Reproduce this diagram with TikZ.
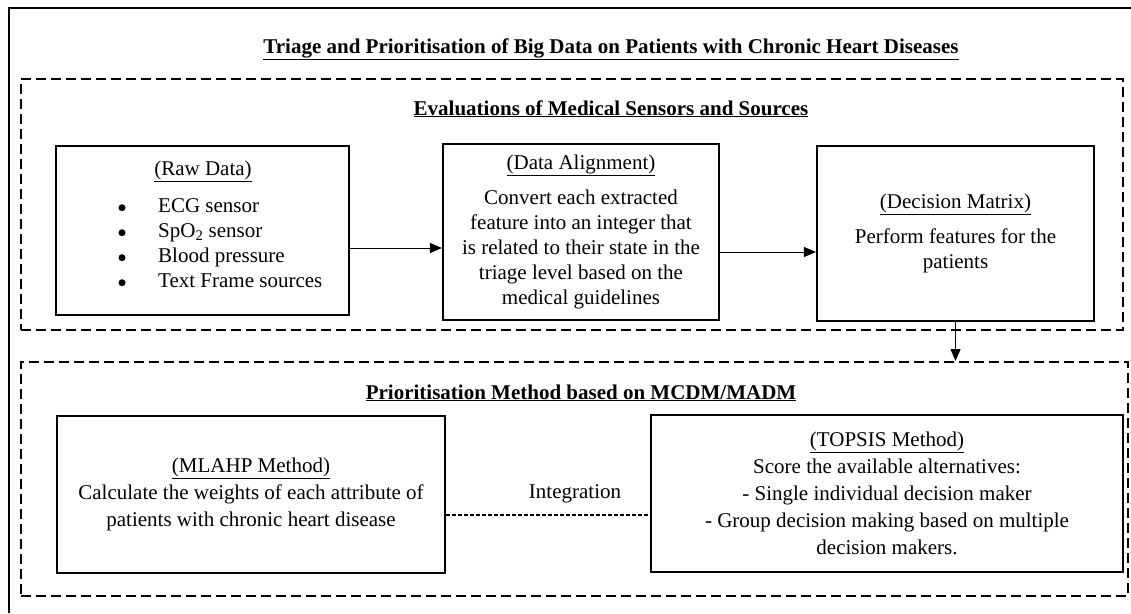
\documentclass[tikz,border=0pt]{standalone}
\usepackage{fontspec}
\setmainfont{Liberation Serif}
\usetikzlibrary{arrows.meta}
\begin{document}
\begin{tikzpicture}[x=1pt,y=-1pt,
  txt/.style={font=\fontsize{21}{25}\selectfont, inner sep=0pt},
  box/.style={draw, line width=2.2pt, inner sep=0pt, align=center, font=\fontsize{21}{25}\selectfont},
  lowbox/.style={box, font=\fontsize{21}{27}\selectfont},
  frame/.style={draw, line width=2pt, dash pattern=on 10pt off 5pt, inner sep=0pt},
  flow/.style={line width=1pt, -{Triangle[length=12pt,width=10pt]}},
  link/.style={line width=1.5pt, dash pattern=on 4pt off 2pt},
  dot/.style={fill, circle, inner sep=0pt, minimum size=7pt},
]
\useasboundingbox (0,0) rectangle (1131,613);

% outer frame (open to the right and bottom)
\draw[line width=2.8pt] (9,613) -- (9,8) -- (1131,8);

% dashed group frames
\node[frame, minimum width=1102pt, minimum height=251pt] (eval) at (572,204.5) {};
\node[frame, minimum width=1107pt, minimum height=234pt] (prio) at (574.5,479) {};

% headings
\node[txt, anchor=base] (title) at (611,53)
  {\textbf{\underline{Triage and Prioritisation of Big Data on Patients with Chronic Heart Diseases}}};
\node[txt, anchor=base] (evalhead) at (611,115)
  {\textbf{\underline{Evaluations of Medical Sensors and Sources}}};
\node[txt, anchor=base] (priohead) at (581,399)
  {\textbf{\underline{Prioritisation Method based on MCDM/MADM}}};

% raw data box
\node[box, minimum width=293pt, minimum height=169pt] (raw) at (202.5,230.5) {};
\node[txt, anchor=base] (rawhead) at (203,175) {\underline{(Raw Data)}};
\node[txt, anchor=west] (rawlist) at (158,245) {%
  \begin{tabular}{@{}l@{}}
  ECG sensor\\
  SpO\textsubscript{2} sensor\\
  Blood pressure\\
  Text Frame sources
  \end{tabular}};
\node[dot] (b1) at (122,207.7) {};
\node[dot] (b2) at (122,232.7) {};
\node[dot] (b3) at (122,257.7) {};
\node[dot] (b4) at (122,282.7) {};

% data alignment box
\node[box, minimum width=276pt, minimum height=176pt] (da) at (581,232)
  {\underline{(Data Alignment)}\\[10pt]
   Convert each extracted\\
   feature into an integer that\\
   is related to their state in the\\
   triage level based on the\\
   medical guidelines};

% decision matrix box
\node[box, minimum width=277pt, minimum height=175pt] (dm) at (955.5,233.5)
  {\underline{(Decision Matrix)}\\[10pt]
   Perform features for the\\
   patients};

% MLAHP box
\node[lowbox, minimum width=388pt, minimum height=157pt] (mlahp) at (251,494.5)
  {\underline{(MLAHP Method)}\\
   Calculate the weights of each attribute of\\
   patients with chronic heart disease};

% TOPSIS box
\node[lowbox, minimum width=472pt, minimum height=157pt] (topsis) at (887,493.5)
  {\underline{(TOPSIS Method)}\\
   Score the available alternatives:\\
   - Single individual decision maker\\
   - Group decision making based on multiple\\
   decision makers.};

% connectors
\coordinate (r1) at (0,248);
\coordinate (r2) at (0,252);
\coordinate (r3) at (0,515);
\draw[flow] (raw.east |- r1) -- (da.west |- r1);
\draw[flow] (da.east |- r2) -- (dm.west |- r2);
\draw[flow] (dm.south) -- (dm.south |- prio.north);
\draw[link] (mlahp.east |- r3) -- (topsis.west |- r3);
\node[txt, anchor=base] (integ) at (575,498) {Integration};
\end{tikzpicture}
\end{document}
